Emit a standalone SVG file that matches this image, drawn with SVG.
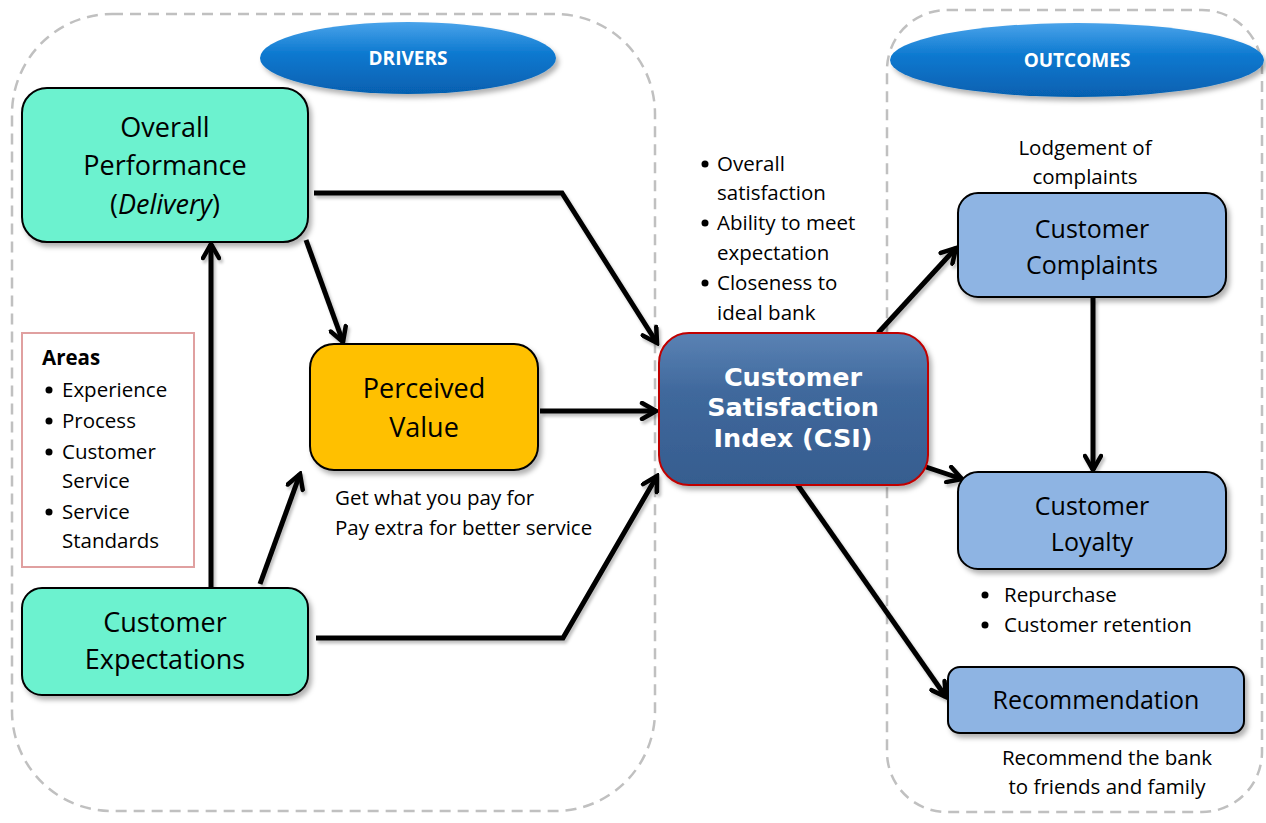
<svg xmlns="http://www.w3.org/2000/svg" width="1266" height="823" viewBox="0 0 1266 823">
<defs>
<style>
.t{font-family:"Open Sans",Lato,"Liberation Sans",sans-serif;fill:#000}
.big{font-size:27px}
.mid{font-size:25px}
.sm{font-size:20.5px}
.box{stroke:#000;stroke-width:2}
.cont{fill:none;stroke:#c0c0c0;stroke-width:2.5;stroke-dasharray:11 7}
.con{fill:none;stroke:#000;stroke-width:5;stroke-linejoin:miter}
.hdr{font-family:"Open Sans",Lato,"Liberation Sans",sans-serif;font-weight:bold;font-size:19px;fill:#fff}
.csi{font-family:"DejaVu Sans","Liberation Sans",sans-serif;font-weight:bold;font-size:25.5px;fill:#fff}
</style>
<filter id="sh" x="-10%" y="-10%" width="130%" height="130%">
<feDropShadow dx="3" dy="4" stdDeviation="2.5" flood-color="#000" flood-opacity="0.3"/>
</filter>
<filter id="lsh" x="-10%" y="-10%" width="130%" height="130%">
<feDropShadow dx="2" dy="3" stdDeviation="1.5" flood-color="#000" flood-opacity="0.25"/>
</filter>
<linearGradient id="blueEl" x1="0" y1="0" x2="0" y2="1">
<stop offset="0" stop-color="#4aa3ea"/>
<stop offset="0.45" stop-color="#0b78cf"/>
<stop offset="1" stop-color="#0660b0"/>
</linearGradient>
<linearGradient id="csiG" x1="0" y1="0" x2="0" y2="1">
<stop offset="0" stop-color="#5a82b4"/>
<stop offset="0.4" stop-color="#3f689c"/>
<stop offset="1" stop-color="#365d8f"/>
</linearGradient>
<marker id="ah" viewBox="0 0 20 20" refX="17" refY="10" markerWidth="20" markerHeight="20" markerUnits="userSpaceOnUse" orient="auto">
<path d="M3,2 L17,10 L3,18" fill="none" stroke="#000" stroke-width="4.5" stroke-linecap="round" stroke-linejoin="miter"/>
</marker>
</defs>
<rect width="1266" height="823" fill="#fff"/>

<g id="containers">
<rect class="cont" x="12" y="14" width="643" height="797" rx="100" ry="100"/>
<rect class="cont" x="887" y="10" width="375" height="802" rx="60" ry="60"/>
</g>

<g id="drivers">
<ellipse cx="408" cy="58" rx="148" ry="36" fill="url(#blueEl)" filter="url(#sh)"/>
<text class="hdr" x="408" y="65" text-anchor="middle">DRIVERS</text>
</g>
<g id="outcomes">
<ellipse cx="1077" cy="60" rx="187" ry="37" fill="url(#blueEl)" filter="url(#sh)"/>
<text class="hdr" x="1077" y="67" text-anchor="middle">OUTCOMES</text>
</g>

<g id="connectors" filter="url(#lsh)">
<polyline class="con" points="314,193 562,193 657,343" marker-end="url(#ah)"/>
<line class="con" x1="306" y1="240" x2="343" y2="342" marker-end="url(#ah)"/>
<line class="con" x1="211" y1="588" x2="211" y2="244" marker-end="url(#ah)"/>
<line class="con" x1="260" y1="584" x2="300" y2="474" marker-end="url(#ah)"/>
<polyline class="con" points="316,638 563,638 657,476" marker-end="url(#ah)"/>
<line class="con" x1="540" y1="411" x2="656" y2="411" marker-end="url(#ah)"/>
<line class="con" x1="878" y1="333" x2="956" y2="248" marker-end="url(#ah)"/>
<line class="con" x1="926" y1="467" x2="962" y2="479" marker-end="url(#ah)"/>
<line class="con" x1="1093" y1="298" x2="1093" y2="470" marker-end="url(#ah)"/>
<line class="con" x1="797" y1="484" x2="946" y2="697" marker-end="url(#ah)"/>
</g>

<g id="overall">
<rect class="box" x="22" y="88" width="286" height="154" rx="25" fill="#6cf2cf" filter="url(#sh)"/>
<text class="t big" x="165" y="137" text-anchor="middle">Overall</text>
<text class="t big" x="165" y="175" text-anchor="middle">Performance</text>
<text class="t big" x="165" y="214" text-anchor="middle">(<tspan font-style="italic">Delivery</tspan>)</text>
</g>

<g id="expectations">
<rect class="box" x="22" y="588" width="286" height="107" rx="20" fill="#6cf2cf" filter="url(#sh)"/>
<text class="t big" x="165" y="632" text-anchor="middle">Customer</text>
<text class="t big" x="165" y="669" text-anchor="middle">Expectations</text>
</g>

<g id="areas">
<rect x="22" y="333" width="172" height="234" fill="#fff" stroke="#e0a0a0" stroke-width="2"/>
<text class="t sm" x="42" y="365" font-weight="bold">Areas</text>
<circle cx="49" cy="390" r="3.5"/><text class="t sm" x="62" y="397">Experience</text>
<circle cx="49" cy="421" r="3.5"/><text class="t sm" x="62" y="428">Process</text>
<circle cx="49" cy="452" r="3.5"/><text class="t sm" x="62" y="459">Customer</text>
<text class="t sm" x="62" y="488">Service</text>
<circle cx="49" cy="512" r="3.5"/><text class="t sm" x="62" y="519">Service</text>
<text class="t sm" x="62" y="548">Standards</text>
</g>

<g id="perceived">
<rect class="box" x="310" y="344" width="228" height="126" rx="24" fill="#ffc000" filter="url(#sh)"/>
<text class="t big" x="424" y="398" text-anchor="middle">Perceived</text>
<text class="t big" x="424" y="437" text-anchor="middle">Value</text>
<text class="t sm" x="335" y="505">Get what you pay for</text>
<text class="t sm" x="335" y="535">Pay extra for better service</text>
</g>

<g id="csi">
<rect x="659" y="333" width="269" height="152" rx="30" fill="url(#csiG)" stroke="#c00000" stroke-width="2" filter="url(#sh)"/>
<text class="csi" x="793" y="386" text-anchor="middle">Customer</text>
<text class="csi" x="793" y="416" text-anchor="middle">Satisfaction</text>
<text class="csi" x="793" y="447" text-anchor="middle">Index (CSI)</text>
<circle cx="705" cy="164" r="3.5"/><text class="t sm" x="717" y="171">Overall</text>
<text class="t sm" x="717" y="200">satisfaction</text>
<circle cx="705" cy="223" r="3.5"/><text class="t sm" x="717" y="230">Ability to meet</text>
<text class="t sm" x="717" y="260">expectation</text>
<circle cx="705" cy="283" r="3.5"/><text class="t sm" x="717" y="290">Closeness to</text>
<text class="t sm" x="717" y="320">ideal bank</text>
</g>

<g id="complaints">
<text class="t sm" x="1085" y="155" text-anchor="middle">Lodgement of</text>
<text class="t sm" x="1085" y="184" text-anchor="middle">complaints</text>
<rect class="box" x="958" y="193" width="268" height="104" rx="20" fill="#8eb4e3" filter="url(#sh)"/>
<text class="t mid" x="1092" y="238" text-anchor="middle">Customer</text>
<text class="t mid" x="1092" y="274" text-anchor="middle">Complaints</text>
</g>

<g id="loyalty">
<rect class="box" x="958" y="472" width="268" height="97" rx="20" fill="#8eb4e3" filter="url(#sh)"/>
<text class="t mid" x="1092" y="515" text-anchor="middle">Customer</text>
<text class="t mid" x="1092" y="551" text-anchor="middle">Loyalty</text>
<circle cx="985" cy="595" r="3.5"/><text class="t sm" x="1004" y="602">Repurchase</text>
<circle cx="985" cy="625" r="3.5"/><text class="t sm" x="1004" y="632">Customer retention</text>
</g>

<g id="recommendation">
<rect class="box" x="948" y="667" width="296" height="66" rx="12" fill="#8eb4e3" filter="url(#sh)"/>
<text class="t mid" x="1096" y="709" text-anchor="middle">Recommendation</text>
<text class="t sm" x="1107" y="765" text-anchor="middle">Recommend the bank</text>
<text class="t sm" x="1107" y="794" text-anchor="middle">to friends and family</text>
</g>
</svg>
